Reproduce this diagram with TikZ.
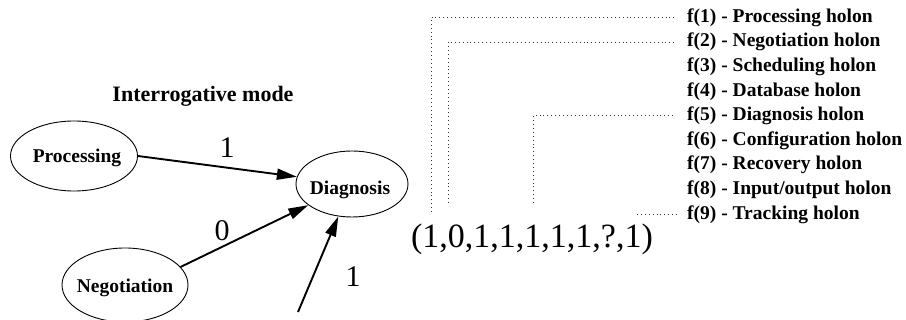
\documentclass[tikz,border=0pt]{standalone}
\usepackage{fontspec}
\setmainfont{Liberation Serif}
\usetikzlibrary{shapes.geometric,arrows.meta}
\begin{document}
\begin{tikzpicture}[x=1pt,y=-1pt,
  holon/.style={ellipse,draw,line width=0.9pt,inner sep=0pt},
  hname/.style={inner sep=0pt,anchor=base,font=\fontsize{19.5}{22}\selectfont\bfseries},
  flist/.style={inner sep=0pt,anchor=west,font=\fontsize{19.5}{22}\selectfont\bfseries},
  weight/.style={inner sep=0pt,font=\fontsize{30}{34}\selectfont},
  link/.style={line width=1.9pt,-{Triangle[length=20pt,width=11pt]}},
  dotline/.style={line width=0.8pt,dash pattern=on 0.9pt off 3pt,black!80}]
\useasboundingbox (0,0) rectangle (906,320);

\node[inner sep=0pt,anchor=base,font=\fontsize{22}{26}\selectfont\bfseries] (title) at (203,102) {Interrogative mode};

\node[holon,minimum width=127pt,minimum height=70pt] (proc) at (74,156) {};
\node[hname] (proctxt) at (77,163) {Processing};
\node[holon,minimum width=112pt,minimum height=66pt] (diag) at (352,184) {};
\node[hname] (diagtxt) at (350,195) {Diagnosis};
\node[holon,minimum width=126pt,minimum height=74pt] (neg) at (125,285) {};
\node[hname] (negtxt) at (125,293) {Negotiation};

\coordinate (third) at (298,312);
\draw[link] (proc.east) -- (diag);
\draw[link] (neg.18) -- (diag);
\draw[link] (third) -- (diag);

\node[weight] (w1) at (227,148) {1};
\node[weight] (w0) at (222,231) {0};
\node[weight] (w3) at (353,277) {1};

\node[inner sep=0pt,anchor=base,font=\fontsize{34}{38}\selectfont] (tuple) at (532,248) {(1,0,1,1,1,1,1,?,1)};

\foreach \i/\t in {1/Processing,2/Negotiation,3/Scheduling,4/Database,5/Diagnosis,6/Configuration,7/Recovery,8/{Input/output},9/Tracking}{
  \node[flist] (f\i) at (687,{17.5+(\i-1)*24.6}) {f(\i) - \t\ holon};
}

\coordinate (e1) at (431,212);
\coordinate (e2) at (448,203);
\coordinate (e5) at (533,203);
\coordinate (e9) at ([xshift=-50pt]f9.west);
\draw[dotline] (e1) |- ([xshift=-12pt]f1.west);
\draw[dotline] (e2) |- ([xshift=-12pt]f2.west);
\draw[dotline] (e5) |- ([xshift=-12pt]f5.west);
\draw[dotline] (e9) -- ([xshift=-9pt]f9.west);
\end{tikzpicture}
\end{document}
